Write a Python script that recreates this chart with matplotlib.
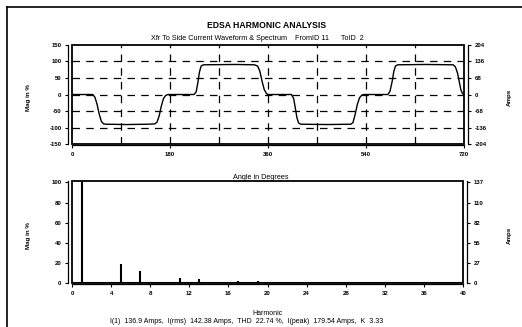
import numpy as np
import matplotlib
matplotlib.use('Agg')
import matplotlib.pyplot as plt
from matplotlib.patches import Rectangle
from matplotlib.lines import Line2D

plt.rcParams['font.family'] = ['Liberation Sans', 'DejaVu Sans']

# waveform (degrees, mag in %)
wave_deg = [0, 38, 42, 46, 50, 54, 58, 62, 100, 140, 152, 156, 160, 164, 168, 172, 176,
            224, 228, 231, 234, 237, 241, 300, 335, 341, 345, 349, 353, 357, 360,
            403, 407, 410, 413, 416, 420, 470, 512, 516, 520, 524, 528, 532, 536,
            580, 584, 588, 591, 594, 598, 650, 700, 704, 708, 711, 714, 717, 720]
wave_pct = [0, 0, -8, -30, -60, -82, -89, -90, -91, -90, -89, -84, -65, -35, -12, -3, 0,
            0, 8, 35, 68, 86, 90, 91, 90, 86, 70, 40, 15, 3, 0,
            0, -12, -40, -70, -86, -90, -91, -90, -85, -60, -30, -10, -2, 0,
            0, 10, 40, 70, 86, 90, 91, 90, 84, 65, 40, 15, 3, 0]

# harmonic spectrum (order, mag in %)
harm_order = [1, 5, 7, 11, 13, 17, 19, 23, 25, 29, 31, 35, 37]
harm_mag = [100, 18.5, 11.5, 4.8, 3.5, 1.8, 1.5, 0.8, 0.8, 0.6, 0.5, 0.4, 0.5]

top_yticks = [-150, -100, -50, 0, 50, 100, 150]
top_amps = ['-204', '-136', '-68', '0', '68', '136', '204']
top_xticks = [0, 180, 360, 540, 720]
bot_yticks = [0, 20, 40, 60, 80, 100]
bot_amps = ['0', '27', '55', '82', '110', '137']
bot_xticks = list(range(0, 41, 4))

stats = 'I(1)  136.9 Amps,  I(rms)  142.38 Amps,  THD  22.74 %,  I(peak)  179.54 Amps,  K  3.33'

fs = 4.3
fig = plt.figure(figsize=(5.22, 3.27), dpi=100)


def style(ax, ax2):
    for a in (ax, ax2):
        for s in a.spines.values():
            s.set_visible(False)
    ax.spines['left'].set_visible(True)
    ax.spines['left'].set_position(('outward', 3))
    ax.spines['bottom'].set_visible(True)
    ax.spines['bottom'].set_position(('outward', 1))
    ax2.spines['right'].set_visible(True)
    ax2.spines['right'].set_position(('outward', 3))
    for s in [ax.spines['left'], ax.spines['bottom'], ax2.spines['right']]:
        s.set_linewidth(0.9)
    ax.tick_params(labelsize=fs, length=2.5, width=0.8, pad=2)
    ax2.tick_params(labelsize=fs, length=2.5, width=0.8, pad=2)
    for t in ax.get_xticklabels() + ax.get_yticklabels() + ax2.get_yticklabels():
        t.set_fontweight('bold')
    ax.add_patch(Rectangle((0, 0), 1, 1, transform=ax.transAxes, fill=False,
                           lw=1.3, ec='black', clip_on=False, zorder=5))


# top plot: waveform
ax1 = fig.add_axes([0.138, 0.5596, 0.751, 0.3028])
ax1.plot(wave_deg, wave_pct, color='black', lw=1.0)
ax1.set_xlim(0, 720)
ax1.set_ylim(-150, 150)
ax1.set_xticks(top_xticks)
ax1.set_xticklabels([str(v) for v in top_xticks])
ax1.set_yticks(top_yticks)
ax1.set_yticklabels([str(v) for v in top_yticks])
for v in range(90, 720, 90):
    ax1.axvline(v, color='black', lw=0.9, ls=(0, (6, 5)))
for v in [-100, -50, 0, 50, 100]:
    ax1.axhline(v, color='black', lw=0.9, ls=(0, (6, 5)))
ax1b = ax1.twinx()
ax1b.set_ylim(-150, 150)
ax1b.set_yticks(top_yticks)
ax1b.set_yticklabels(top_amps)
style(ax1, ax1b)

# bottom plot: spectrum
ax2 = fig.add_axes([0.138, 0.1346, 0.749, 0.312])
ax2.vlines(harm_order, 0, harm_mag, color='black', lw=1.5)
ax2.axhline(0, color='black', lw=1.5)
ax2.set_xlim(0, 40)
ax2.set_ylim(0, 101.5)
ax2.set_xticks(bot_xticks)
ax2.set_xticklabels([str(v) for v in bot_xticks])
ax2.set_yticks(bot_yticks)
ax2.set_yticklabels([str(v) for v in bot_yticks])
ax2b = ax2.twinx()
ax2b.set_ylim(0, 101.5)
ax2b.set_yticks(bot_yticks)
ax2b.set_yticklabels(bot_amps)
style(ax2, ax2b)

# texts
fig.text(0.511, 0.923, 'EDSA HARMONIC ANALYSIS', ha='center', va='center',
         fontsize=6.2, fontweight='bold')
fig.text(0.493, 0.881, 'Xfr To Side Current Waveform & Spectrum    FromID 11      ToID  2',
         ha='center', va='center', fontsize=5.2)
fig.text(0.5, 0.458, 'Angle in Degrees', ha='center', va='center', fontsize=5.2)
fig.text(0.512, 0.042, 'Harmonic', ha='center', va='center', fontsize=5)
fig.text(0.472, 0.016, stats, ha='center', va='center', fontsize=5)
for y in (0.703, 0.281):
    fig.text(0.054, y, 'Mag in %', rotation=90, ha='center', va='center',
             fontsize=4.5, fontweight='bold')
    fig.text(0.975, y, 'Amps', rotation=90, ha='center', va='center',
             fontsize=4.5, fontweight='bold')

# outer frame
fig.add_artist(Line2D([7 / 522, 1], [1 - 7 / 327, 1 - 7 / 327], color='black', lw=1.2,
                      transform=fig.transFigure))
fig.add_artist(Line2D([7 / 522, 7 / 522], [0, 1 - 7 / 327], color='black', lw=1.2,
                      transform=fig.transFigure))

fig.savefig('out.png', dpi=100)
